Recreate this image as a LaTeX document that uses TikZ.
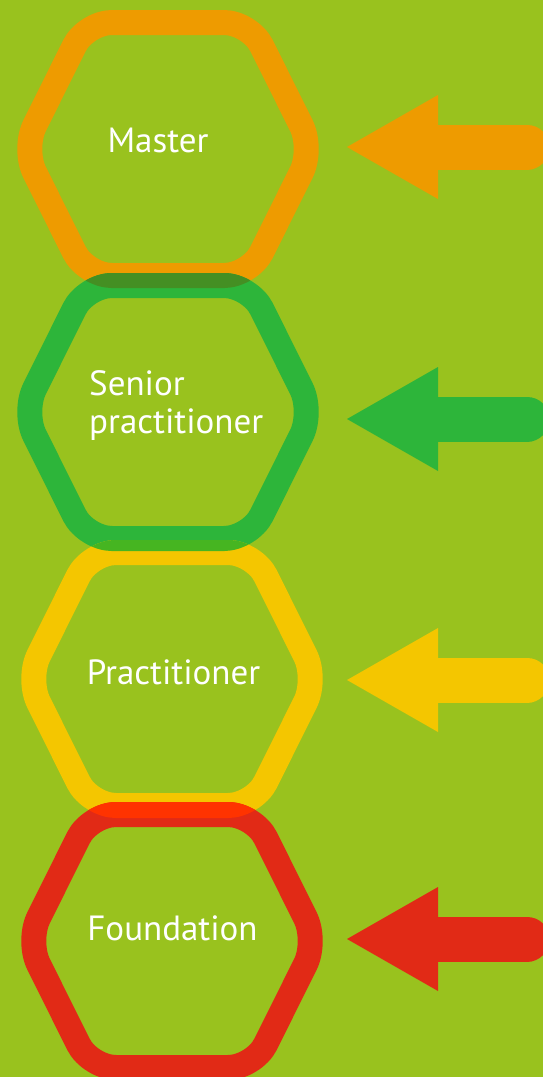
\documentclass[tikz,border=0pt]{standalone}
\usepackage{fontspec}
\setmainfont{PT Sans}
\usetikzlibrary{positioning}
\definecolor{bgreen}{HTML}{99C21E}
\definecolor{lvorange}{HTML}{EE9B00}
\definecolor{lvgreen}{HTML}{2DB53A}
\definecolor{lvyellow}{HTML}{F4C600}
\definecolor{lvred}{HTML}{E12A16}
\definecolor{ovorgr}{HTML}{448F23}
\definecolor{ovgrye}{HTML}{46B521}
\definecolor{ovyere}{HTML}{FF3300}
\tikzstyle{hexline}=[line width=25pt, rounded corners=26pt]
\tikzstyle{hexclip}=[rounded corners=33pt]
\tikzstyle{lvltext}=[text=white, inner sep=0pt, font=\fontsize{35}{38}\selectfont]
\tikzstyle{arrshaft}=[line width=45pt, line cap=round]
% ring through the middle of the stroke
\newcommand{\hexring}[2]{\draw[hexline, draw=#2, shift={(#1)}] (0,-126.5) -- (82,-126.5) -- (145,0) -- (82,126.5) -- (-82,126.5) -- (-145,0) -- (-82,-126.5) -- cycle;}
% outer edge of the stroke, used to clip the overlaps
\newcommand{\hexouter}[1]{\clip[hexclip, shift={(#1)}] (0,-139) -- (89.8,-139) -- (159,0) -- (89.8,139) -- (-89.8,139) -- (-159,0) -- (-89.8,-139) -- cycle;}
\newcommand{\lvlarrow}[2]{\fill[#2] (#1) -- ++(91,-52) -- ++(0,104) -- cycle;
 \draw[arrshaft, #2] (#1) ++(85,0) -- ++(95,0);}

\begin{document}
\begin{tikzpicture}[x=1pt, y=-1pt]
\useasboundingbox (0,0) rectangle (543,1077);
\fill[bgreen] (0,0) rectangle (543,1077);

\coordinate (hM) at (168,149);
\coordinate (hS) at (168,412);
\coordinate (hP) at (172,679);
\coordinate (hF) at (172,941);

\hexring{hM}{lvorange}
\hexring{hS}{lvgreen}
\hexring{hP}{lvyellow}
\hexring{hF}{lvred}

% where two rings overlap
\begin{scope}
\hexouter{hS}
\hexring{hM}{ovorgr}
\end{scope}
\begin{scope}
\hexouter{hP}
\hexring{hS}{ovgrye}
\end{scope}
\begin{scope}
\hexouter{hF}
\hexring{hP}{ovyere}
\end{scope}

\node (master) [lvltext, anchor=base] at (158,152) {Master};
\node (senior) [lvltext, anchor=west, align=left] at (89,406) {Senior\\practitioner};
\node (pract) [lvltext, anchor=base] at (173.5,684) {Practitioner};
\node (found) [lvltext, anchor=base] at (172.5,940) {Foundation};

\coordinate (tipM) at (347,147);
\coordinate (tipS) at (347,419);
\coordinate (tipP) at (347,680);
\coordinate (tipF) at (347,939);

\lvlarrow{tipM}{lvorange}
\lvlarrow{tipS}{lvgreen}
\lvlarrow{tipP}{lvyellow}
\lvlarrow{tipF}{lvred}
\end{tikzpicture}
\end{document}
